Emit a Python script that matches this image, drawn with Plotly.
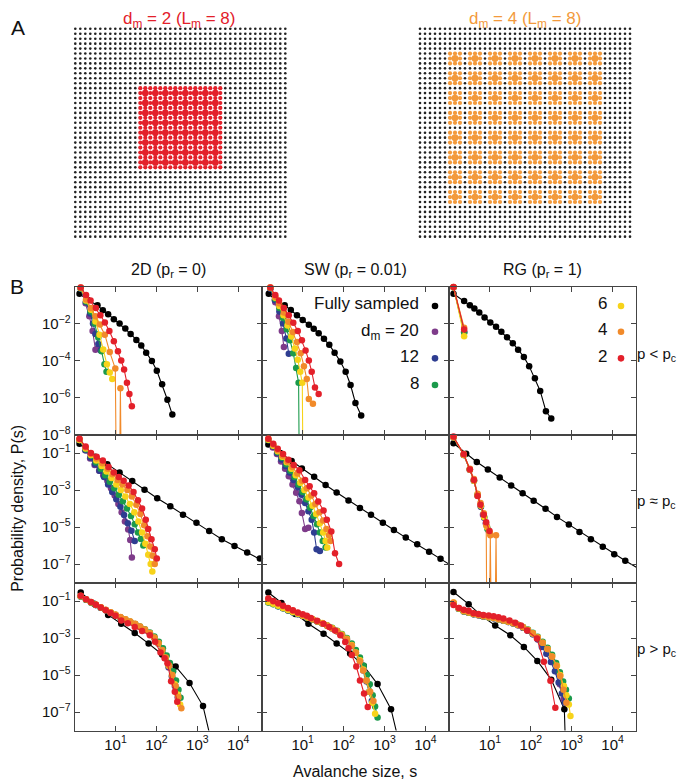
import numpy as np
import plotly.graph_objects as go

W, H = 685, 779
FONT = "Liberation Sans, Arial, sans-serif"

# ---------------- colours ----------------
C_FULL = "#000000"
C_D20 = "#7E3B8A"
C_D12 = "#2E3D91"
C_D8 = "#1B9A4B"
C_D6 = "#F7D31A"
C_D4 = "#F18A2A"
C_D2 = "#E3202A"
C_LAT4 = "#F39A3C"

# ---------------- tick labels / titles ----------------
col_titles = ["2D (p<sub>r</sub> = 0)", "SW (p<sub>r</sub> = 0.01)", "RG (p<sub>r</sub> = 1)"]
row_titles = ["p < p<sub>c</sub>", "p ≈ p<sub>c</sub>", "p > p<sub>c</sub>"]
x_tickvals = [10, 100, 1000, 10000]
x_ticktext = ["10<sup>1</sup>", "10<sup>2</sup>", "10<sup>3</sup>", "10<sup>4</sup>"]
y_tickvals_even = [1e-2, 1e-4, 1e-6, 1e-8]
y_ticktext_even = ["10<sup>−2</sup>", "10<sup>−4</sup>", "10<sup>−6</sup>", "10<sup>−8</sup>"]
y_tickvals_odd = [1e-1, 1e-3, 1e-5, 1e-7]
y_ticktext_odd = ["10<sup>−1</sup>", "10<sup>−3</sup>", "10<sup>−5</sup>", "10<sup>−7</sup>"]

# ---------------- data: log10(s) and log10(P(s)); -20 marks an empty bin (P = 0) ----------------
# Row 1: p < pc, 2D
r1_2d_full_s = [0.12,0.32,0.56,0.69,0.82,0.96,1.10,1.24,1.37,1.51,1.63,1.75,1.89,2.01,2.14,2.27,2.39]
r1_2d_full_p = [-0.39,-0.72,-1.01,-1.28,-1.49,-1.76,-1.99,-2.26,-2.56,-2.88,-3.18,-3.57,-4.02,-4.55,-5.28,-6.12,-6.92]
r1_2d_d20_s = [0.15,0.27,0.36,0.44,0.51,0.56]
r1_2d_d20_p = [-0.1,-0.9,-1.6,-2.4,-3.41,-3.36]
r1_2d_d12_s = [0.15,0.28,0.38,0.45,0.51,0.58,0.64]
r1_2d_d12_p = [-0.1,-0.85,-1.45,-2.0,-2.56,-3.1,-3.45]
r1_2d_d8_s = [0.15,0.28,0.39,0.49,0.58,0.66,0.73,0.78]
r1_2d_d8_p = [-0.1,-0.8,-1.35,-2.0,-2.75,-3.5,-4.2,-4.6]
r1_2d_d6_s = [0.15,0.28,0.40,0.51,0.61,0.70,0.79,0.86,0.92]
r1_2d_d6_p = [-0.08,-0.75,-1.25,-1.88,-2.6,-3.4,-4.2,-4.65,-5.0]
r1_2d_d4_s = [0.15,0.28,0.40,0.51,0.62,0.74,0.86,0.995,1.06,1.12,1.18]
r1_2d_d4_p = [-0.05,-0.7,-1.15,-1.6,-2.05,-2.6,-3.54,-4.43,-20,-5.49,-20]
r1_2d_d2_s = [0.15,0.28,0.39,0.52,0.63,0.74,0.85,0.96,1.06,1.14,1.21,1.28,1.34,1.40]
r1_2d_d2_p = [-0.05,-0.45,-0.75,-1.15,-1.55,-1.94,-2.4,-2.95,-3.5,-4.0,-4.48,-5.2,-5.8,-6.47]

# Row 1: p < pc, SW
r1_sw_full_s = [0.17,0.32,0.56,0.71,0.86,1.0,1.15,1.27,1.39,1.52,1.65,1.78,1.92,2.05,2.17,2.29,2.43]
r1_sw_full_p = [-0.39,-0.72,-1.01,-1.27,-1.55,-1.8,-2.06,-2.28,-2.52,-2.82,-3.15,-3.57,-4.05,-4.6,-5.32,-6.29,-6.97]
r1_sw_d20_s = [0.21,0.33,0.42,0.49,0.54]
r1_sw_d20_p = [-0.1,-0.85,-1.6,-2.4,-3.27]
r1_sw_d12_s = [0.21,0.33,0.43,0.52,0.60,0.66]
r1_sw_d12_p = [-0.1,-0.75,-1.35,-2.0,-2.8,-3.63]
r1_sw_d8_s = [0.21,0.33,0.43,0.52,0.61,0.69,0.77,0.84,0.90,0.95]
r1_sw_d8_p = [-0.08,-0.65,-1.15,-1.7,-2.3,-2.9,-3.6,-4.4,-5.2,-20]
r1_sw_d6_s = [0.21,0.33,0.43,0.53,0.63,0.72,0.81,0.88,0.94,0.99,1.04]
r1_sw_d6_p = [-0.05,-0.6,-1.05,-1.55,-2.1,-2.7,-3.35,-3.95,-4.6,-5.2,-20]
r1_sw_d4_s = [0.21,0.33,0.42,0.54,0.65,0.76,0.86,0.95,1.03,1.10,1.15,1.25]
r1_sw_d4_p = [-0.05,-0.55,-0.9,-1.4,-1.9,-2.45,-3.0,-3.6,-4.3,-5.0,-6.08,-6.33]
r1_sw_d2_s = [0.21,0.33,0.42,0.54,0.66,0.77,0.88,0.98,1.07,1.15,1.22,1.30,1.39]
r1_sw_d2_p = [-0.05,-0.45,-0.75,-1.15,-1.55,-1.95,-2.4,-2.9,-3.45,-4.0,-4.6,-5.45,-5.8]

# Row 1: p < pc, RG
r1_rg_full_s = [0.11,0.37,0.51,0.62,0.74,0.87,1.01,1.15,1.28,1.42,1.56,1.69,1.83,1.96,2.10,2.23,2.37,2.50]
r1_rg_full_p = [-0.39,-0.78,-1.01,-1.19,-1.40,-1.67,-1.94,-2.17,-2.44,-2.74,-3.06,-3.41,-3.80,-4.30,-4.96,-5.64,-6.74,-7.13]
r1_rg_d20_s = [0.11,0.37]
r1_rg_d20_p = [-0.03,-2.45]
r1_rg_d12_s = [0.11,0.37]
r1_rg_d12_p = [-0.03,-2.45]
r1_rg_d8_s = [0.11,0.37]
r1_rg_d8_p = [-0.03,-2.5]
r1_rg_d6_s = [0.11,0.37]
r1_rg_d6_p = [-0.03,-2.68]
r1_rg_d4_s = [0.11,0.37]
r1_rg_d4_p = [-0.02,-2.22]
r1_rg_d2_s = [0.11,0.37]
r1_rg_d2_p = [-0.02,-2.32]

# Row 2: p ~ pc, 2D
r2_2d_full_s = [0.12,0.5,0.8,1.10,1.41,1.71,2.02,2.34,2.65,2.98,3.29,3.60,3.91,4.22,4.53,4.84]
r2_2d_full_p = [-0.5,-1.2,-1.6,-2.05,-2.51,-2.99,-3.44,-3.88,-4.33,-4.77,-5.22,-5.66,-6.02,-6.37,-6.70,-7.1]
r2_2d_d20_s = [0.12,0.26,0.38,0.49,0.60,0.70,0.80,0.89,0.98,1.07,1.15,1.23,1.31,1.36,1.40]
r2_2d_d20_p = [-0.3,-0.85,-1.3,-1.65,-1.95,-2.2,-2.5,-2.9,-3.3,-3.75,-4.2,-4.7,-5.13,-5.7,-6.64]
r2_2d_d12_s = [0.12,0.27,0.39,0.50,0.61,0.72,0.82,0.92,1.02,1.12,1.21,1.30,1.39,1.47]
r2_2d_d12_p = [-0.3,-0.85,-1.25,-1.6,-1.95,-2.3,-2.7,-3.1,-3.5,-3.9,-4.35,-4.8,-5.2,-5.75]
r2_2d_d8_s = [0.12,0.27,0.40,0.52,0.64,0.75,0.86,0.97,1.08,1.18,1.28,1.38,1.47,1.55,1.62,1.68]
r2_2d_d8_p = [-0.3,-0.8,-1.15,-1.5,-1.85,-2.2,-2.55,-2.9,-3.25,-3.6,-4.0,-4.4,-4.85,-5.3,-5.65,-6.0]
r2_2d_d6_s = [0.12,0.27,0.40,0.53,0.66,0.78,0.90,1.02,1.13,1.24,1.35,1.46,1.56,1.65,1.73,1.80,1.86,1.90]
r2_2d_d6_p = [-0.3,-0.75,-1.1,-1.4,-1.7,-2.0,-2.35,-2.7,-3.0,-3.35,-3.75,-4.2,-4.7,-5.3,-5.9,-6.5,-7.0,-7.41]
r2_2d_d4_s = [0.12,0.27,0.40,0.54,0.68,0.81,0.93,1.05,1.17,1.29,1.40,1.51,1.61,1.70,1.78,1.85,1.91,1.96]
r2_2d_d4_p = [-0.25,-0.7,-1.05,-1.3,-1.55,-1.85,-2.15,-2.45,-2.7,-3.0,-3.35,-3.8,-4.3,-4.9,-5.5,-6.05,-6.55,-7.0]
r2_2d_d2_s = [0.12,0.27,0.40,0.54,0.69,0.83,0.96,1.08,1.20,1.32,1.44,1.55,1.65,1.74,1.80,1.88,1.96,2.01]
r2_2d_d2_p = [-0.23,-0.65,-1.0,-1.2,-1.4,-1.75,-2.05,-2.3,-2.5,-2.75,-3.1,-3.55,-4.0,-4.6,-5.1,-5.66,-6.2,-6.7]

# Row 2: p ~ pc, SW
r2_sw_full_s = [0.16,0.45,0.73,0.98,1.28,1.56,1.83,2.12,2.40,2.67,2.96,3.23,3.52,3.80,4.09,4.37,4.65]
r2_sw_full_p = [-0.54,-1.0,-1.43,-1.84,-2.28,-2.73,-3.13,-3.56,-3.97,-4.33,-4.77,-5.16,-5.57,-5.93,-6.34,-6.72,-7.1]
r2_sw_d20_s = [0.16,0.27,0.37,0.47,0.57,0.66,0.75,0.84,0.92,0.98,1.06,1.14]
r2_sw_d20_p = [-0.3,-0.7,-1.05,-1.45,-1.85,-2.25,-2.7,-3.15,-3.6,-4.24,-5.1,-5.04]
r2_sw_d12_s = [0.16,0.28,0.38,0.48,0.58,0.68,0.78,0.88,0.97,1.06,1.14,1.22,1.28,1.34,1.42]
r2_sw_d12_p = [-0.3,-0.65,-1.0,-1.35,-1.7,-2.05,-2.45,-2.85,-3.25,-3.7,-4.15,-4.6,-5.3,-6.2,-6.29]
r2_sw_d8_s = [0.16,0.28,0.39,0.49,0.60,0.70,0.80,0.90,1.00,1.09,1.18,1.27,1.35,1.42,1.49,1.56]
r2_sw_d8_p = [-0.3,-0.62,-0.95,-1.25,-1.6,-1.95,-2.3,-2.7,-3.1,-3.5,-3.95,-4.4,-4.85,-5.3,-5.75,-6.1]
r2_sw_d6_s = [0.16,0.28,0.39,0.50,0.61,0.72,0.83,0.94,1.04,1.14,1.24,1.33,1.42,1.50,1.56,1.60]
r2_sw_d6_p = [-0.28,-0.6,-0.9,-1.2,-1.5,-1.85,-2.2,-2.6,-3.0,-3.4,-3.85,-4.3,-4.8,-5.3,-5.75,-6.1]
r2_sw_d4_s = [0.16,0.28,0.39,0.51,0.63,0.75,0.87,0.99,1.10,1.21,1.31,1.41,1.50,1.58,1.64,1.68]
r2_sw_d4_p = [-0.23,-0.55,-0.85,-1.15,-1.45,-1.75,-2.1,-2.5,-2.9,-3.3,-3.75,-4.2,-4.65,-5.1,-5.45,-5.75]
r2_sw_d2_s = [0.16,0.28,0.39,0.52,0.65,0.78,0.92,1.06,1.17,1.28,1.38,1.51,1.59,1.70,1.79,1.89]
r2_sw_d2_p = [-0.23,-0.5,-0.77,-1.05,-1.36,-1.65,-1.93,-2.46,-2.8,-3.17,-3.62,-4.1,-4.6,-5.24,-6.41,-7.0]

# Row 2: p ~ pc, RG
r2_rg_full_s = [0.11,0.42,0.68,0.95,1.24,1.52,1.80,2.07,2.36,2.64,2.93,3.19,3.47,3.76,4.04,4.31,4.60]
r2_rg_full_p = [-0.47,-1.04,-1.48,-1.89,-2.32,-2.76,-3.17,-3.58,-4.01,-4.45,-4.86,-5.27,-5.66,-6.07,-6.47,-6.82,-7.2]
r2_rg_d20_s = [0.11,0.36,0.51,0.61,0.70,0.78,0.83,0.90,0.97]
r2_rg_d20_p = [-0.15,-1.1,-1.9,-2.5,-3.3,-3.9,-4.33,-4.8,-5.2]
r2_rg_d12_s = [0.11,0.36,0.51,0.61,0.70,0.78,0.86,0.93]
r2_rg_d12_p = [-0.15,-1.1,-1.9,-2.5,-3.3,-3.9,-4.5,-5.0]
r2_rg_d8_s = [0.11,0.36,0.51,0.61,0.70,0.78,0.86,0.94]
r2_rg_d8_p = [-0.15,-1.08,-1.88,-2.48,-3.25,-3.85,-4.45,-5.1]
r2_rg_d6_s = [0.11,0.36,0.51,0.61,0.70,0.78,0.86,0.93,1.0]
r2_rg_d6_p = [-0.15,-1.1,-1.9,-2.5,-3.3,-3.85,-4.45,-5.0,-5.3]
r2_rg_d4_s = [0.11,0.36,0.51,0.61,0.70,0.77,0.85,0.91,0.95,1.01,1.08,1.15,1.21]
r2_rg_d4_p = [-0.15,-1.05,-1.85,-2.4,-3.2,-3.7,-4.25,-4.9,-20,-5.45,-20,-5.45,-20]
r2_rg_d2_s = [0.11,0.36,0.51,0.61,0.70,0.77,0.85,0.91,0.99]
r2_rg_d2_p = [-0.11,-1.07,-1.89,-2.46,-3.32,-3.8,-4.33,-4.74,-5.22]

# Row 3: p > pc, 2D
r3_2d_full_s = [0.15,0.48,0.82,1.14,1.47,1.81,2.14,2.47,2.81,3.14,3.45]
r3_2d_full_p = [-0.54,-1.15,-1.75,-2.23,-2.73,-3.3,-3.89,-4.54,-5.43,-6.68,-9.6]
r3_2d_d20_s = [0.15,0.28,0.40,0.52,0.64,0.76,0.88,1.0,1.12,1.24,1.36,1.48,1.60,1.72,1.84,1.95,2.05,2.14,2.22,2.30,2.38,2.45,2.52]
r3_2d_d20_p = [-0.75,-0.92,-1.07,-1.21,-1.35,-1.49,-1.62,-1.75,-1.88,-2.0,-2.12,-2.25,-2.4,-2.56,-2.75,-3.0,-3.3,-3.7,-4.1,-4.6,-5.1,-5.6,-6.2]
r3_2d_d12_s = [0.15,0.28,0.40,0.52,0.64,0.76,0.88,1.0,1.12,1.24,1.36,1.48,1.60,1.72,1.84,1.95,2.05,2.14,2.22,2.30,2.38,2.46,2.53]
r3_2d_d12_p = [-0.76,-0.93,-1.08,-1.22,-1.36,-1.5,-1.63,-1.76,-1.89,-2.01,-2.13,-2.26,-2.41,-2.57,-2.76,-3.0,-3.3,-3.68,-4.08,-4.55,-5.05,-5.6,-6.1]
r3_2d_d8_s = [0.15,0.28,0.40,0.52,0.64,0.76,0.88,1.0,1.12,1.24,1.36,1.48,1.60,1.72,1.84,1.95,2.06,2.16,2.25,2.33,2.41,2.48,2.54,2.59]
r3_2d_d8_p = [-0.76,-0.93,-1.08,-1.22,-1.36,-1.5,-1.63,-1.76,-1.89,-2.0,-2.12,-2.24,-2.38,-2.53,-2.7,-2.92,-3.2,-3.55,-3.95,-4.35,-4.8,-5.3,-5.8,-6.23]
r3_2d_d6_s = [0.15,0.28,0.40,0.52,0.64,0.76,0.88,1.0,1.12,1.24,1.36,1.48,1.60,1.72,1.84,1.95,2.05,2.14,2.22,2.30,2.38,2.45,2.52,2.58]
r3_2d_d6_p = [-0.74,-0.91,-1.06,-1.2,-1.34,-1.48,-1.61,-1.74,-1.87,-1.99,-2.11,-2.24,-2.39,-2.55,-2.74,-2.98,-3.28,-3.66,-4.06,-4.5,-5.0,-5.5,-6.05,-6.6]
r3_2d_d4_s = [0.15,0.28,0.40,0.52,0.64,0.76,0.88,1.0,1.12,1.24,1.36,1.48,1.60,1.72,1.84,1.95,2.05,2.14,2.23,2.31,2.39,2.47,2.54,2.61]
r3_2d_d4_p = [-0.72,-0.9,-1.05,-1.19,-1.33,-1.47,-1.6,-1.73,-1.86,-1.98,-2.1,-2.23,-2.38,-2.54,-2.73,-2.97,-3.27,-3.65,-4.05,-4.5,-5.0,-5.6,-6.2,-6.8]
r3_2d_d2_s = [0.15,0.28,0.40,0.52,0.64,0.76,0.88,1.0,1.14,1.30,1.47,1.65,1.84,1.97,2.10,2.20,2.27,2.36,2.45,2.51]
r3_2d_d2_p = [-0.72,-0.9,-1.05,-1.2,-1.35,-1.5,-1.65,-1.8,-2.05,-2.2,-2.41,-2.62,-2.85,-3.2,-3.78,-4.1,-4.37,-5.34,-5.9,-6.45]

# Row 3: p > pc, SW
r3_sw_full_s = [0.16,0.48,0.82,1.14,1.51,1.83,2.16,2.49,2.83,3.16,3.48]
r3_sw_full_p = [-0.54,-1.1,-1.7,-2.23,-2.77,-3.3,-3.83,-4.5,-5.49,-6.85,-9.8]
r3_sw_d20_s = [0.16,0.28,0.40,0.52,0.64,0.76,0.88,1.0,1.12,1.24,1.36,1.48,1.60,1.72,1.84,1.96,2.08,2.2,2.3,2.4,2.48,2.56,2.63,2.70]
r3_sw_d20_p = [-1.05,-1.15,-1.27,-1.38,-1.5,-1.6,-1.7,-1.8,-1.9,-2.0,-2.1,-2.2,-2.33,-2.47,-2.63,-2.82,-3.05,-3.4,-3.8,-4.25,-4.75,-5.35,-5.9,-6.5]
r3_sw_d12_s = [0.16,0.28,0.40,0.52,0.64,0.76,0.88,1.0,1.12,1.24,1.36,1.48,1.60,1.72,1.84,1.96,2.08,2.2,2.3,2.4,2.48,2.56,2.63,2.69]
r3_sw_d12_p = [-1.06,-1.16,-1.28,-1.39,-1.51,-1.61,-1.71,-1.81,-1.91,-2.01,-2.11,-2.21,-2.34,-2.48,-2.64,-2.83,-3.06,-3.4,-3.8,-4.2,-4.7,-5.3,-5.9,-6.4]
r3_sw_d8_s = [0.16,0.28,0.40,0.52,0.64,0.76,0.88,1.0,1.12,1.24,1.36,1.48,1.60,1.72,1.84,1.96,2.08,2.2,2.3,2.4,2.49,2.57,2.64,2.71,2.77,2.83]
r3_sw_d8_p = [-1.08,-1.17,-1.28,-1.39,-1.5,-1.6,-1.7,-1.8,-1.9,-2.0,-2.1,-2.2,-2.32,-2.45,-2.6,-2.78,-3.0,-3.3,-3.65,-4.05,-4.5,-5.0,-5.5,-6.1,-6.7,-7.3]
r3_sw_d6_s = [0.16,0.28,0.40,0.52,0.64,0.76,0.88,1.0,1.12,1.24,1.36,1.48,1.60,1.72,1.84,1.96,2.08,2.2,2.3,2.4,2.48,2.56,2.63,2.70,2.77]
r3_sw_d6_p = [-1.05,-1.15,-1.26,-1.37,-1.49,-1.59,-1.69,-1.79,-1.89,-1.99,-2.09,-2.19,-2.32,-2.46,-2.62,-2.81,-3.04,-3.38,-3.78,-4.2,-4.7,-5.3,-5.9,-6.5,-7.09]
r3_sw_d4_s = [0.16,0.28,0.40,0.52,0.64,0.76,0.88,1.0,1.12,1.24,1.36,1.48,1.60,1.72,1.84,1.96,2.08,2.2,2.3,2.4,2.48,2.56,2.65,2.73]
r3_sw_d4_p = [-0.88,-1.02,-1.15,-1.28,-1.41,-1.53,-1.65,-1.77,-1.88,-1.99,-2.1,-2.21,-2.34,-2.48,-2.64,-2.83,-3.06,-3.4,-3.8,-4.25,-4.75,-5.3,-5.9,-6.4]
r3_sw_d2_s = [0.16,0.28,0.40,0.52,0.64,0.76,0.88,1.0,1.1,1.2,1.35,1.51,1.65,1.79,1.92,2.04,2.12,2.2,2.31,2.4,2.5,2.59]
r3_sw_d2_p = [-0.86,-1.0,-1.12,-1.25,-1.38,-1.5,-1.62,-1.72,-1.8,-1.92,-2.07,-2.23,-2.4,-2.59,-2.85,-3.21,-3.55,-3.92,-4.54,-5.3,-6.0,-6.73]

# Row 3: p > pc, RG
r3_rg_full_s = [0.11,0.48,0.80,1.13,1.50,1.83,2.16,2.50,2.82,3.0]
r3_rg_full_p = [-0.51,-1.17,-1.8,-2.32,-2.85,-3.48,-4.24,-5.25,-6.85,-20]
r3_rg_d20_s = [0.11,0.24,0.36,0.48,0.60,0.72,0.84,0.97,1.09,1.21,1.33,1.45,1.57,1.69,1.81,1.93,2.05,2.17,2.29,2.41,2.52,2.62,2.71,2.80]
r3_rg_d20_p = [-1.12,-1.42,-1.56,-1.63,-1.71,-1.77,-1.83,-1.88,-1.93,-1.99,-2.06,-2.13,-2.21,-2.31,-2.44,-2.6,-2.8,-3.05,-3.35,-3.75,-4.2,-4.8,-5.5,-6.3]
r3_rg_d12_s = [0.11,0.24,0.36,0.48,0.60,0.72,0.84,0.97,1.09,1.21,1.33,1.45,1.57,1.69,1.81,1.93,2.05,2.17,2.27,2.38,2.49,2.59,2.68,2.76,2.83]
r3_rg_d12_p = [-1.12,-1.42,-1.56,-1.63,-1.71,-1.77,-1.83,-1.88,-1.93,-1.99,-2.06,-2.13,-2.21,-2.31,-2.44,-2.6,-2.8,-3.08,-3.48,-3.85,-4.3,-4.8,-5.4,-6.0,-6.5]
r3_rg_d8_s = [0.11,0.24,0.36,0.48,0.60,0.72,0.84,0.97,1.09,1.21,1.33,1.45,1.57,1.69,1.81,1.93,2.05,2.17,2.29,2.41,2.52,2.62,2.71,2.79,2.86,2.93]
r3_rg_d8_p = [-1.12,-1.42,-1.55,-1.62,-1.7,-1.76,-1.82,-1.87,-1.92,-1.98,-2.04,-2.11,-2.19,-2.28,-2.4,-2.54,-2.72,-2.93,-3.2,-3.52,-3.9,-4.35,-4.85,-5.35,-5.8,-6.27]
r3_rg_d6_s = [0.11,0.24,0.36,0.48,0.60,0.72,0.84,0.97,1.09,1.21,1.33,1.45,1.57,1.69,1.81,1.93,2.05,2.17,2.29,2.41,2.52,2.64,2.72,2.81,2.87,2.93,2.97]
r3_rg_d6_p = [-1.08,-1.4,-1.55,-1.62,-1.7,-1.76,-1.82,-1.87,-1.92,-1.98,-2.05,-2.12,-2.2,-2.3,-2.42,-2.57,-2.75,-2.97,-3.25,-3.6,-4.0,-4.5,-5.0,-5.6,-6.1,-6.6,-7.21]
r3_rg_d4_s = [0.11,0.24,0.36,0.48,0.60,0.72,0.84,0.97,1.09,1.21,1.33,1.45,1.57,1.69,1.81,1.93,2.05,2.17,2.29,2.41,2.52,2.63,2.72,2.80,2.87]
r3_rg_d4_p = [-1.08,-1.38,-1.53,-1.61,-1.69,-1.75,-1.81,-1.86,-1.91,-1.97,-2.04,-2.11,-2.19,-2.29,-2.41,-2.56,-2.74,-2.97,-3.25,-3.6,-4.0,-4.5,-5.05,-5.8,-6.5]
r3_rg_d2_s = [0.11,0.24,0.36,0.48,0.60,0.72,0.84,0.97,1.09,1.21,1.33,1.48,1.62,1.76,1.91,2.15,2.32,2.48,2.60]
r3_rg_d2_p = [-1.22,-1.38,-1.47,-1.52,-1.66,-1.7,-1.75,-1.78,-1.82,-1.87,-1.95,-2.05,-2.17,-2.32,-2.59,-3.03,-4.28,-5.31,-6.77]

# ---------------- panel A lattice parameters ----------------
LATTICE_N = 43
LEFT_DM, RIGHT_DM, L_M = 2, 4, 8
LEFT_ELEC_X0, LEFT_ELEC_Y0 = 14, 13
RIGHT_ELEC_X0, RIGHT_ELEC_Y0 = 7, 6
lattice_titles = ["d<sub>m</sub> = 2 (L<sub>m</sub> = 8)", "d<sub>m</sub> = 4 (L<sub>m</sub> = 8)"]

# ---------------- layout geometry (pixels) ----------------
COL_PX = [(66.6, 253.8), (253.8, 441.0), (441.0, 628.2)]
ROW_PX = [(281.5, 431.0), (431.0, 580.5), (580.5, 730.0)]
X_RANGE = [0, 4.577]
Y_RANGE = [-8, 0]


def xdom(a, b):
    return [a / W, b / W]


def ydom(top, bottom):
    return [1 - bottom / H, 1 - top / H]


panels = {
    (0, 0): [(r1_2d_full_s, r1_2d_full_p, C_FULL), (r1_2d_d20_s, r1_2d_d20_p, C_D20), (r1_2d_d12_s, r1_2d_d12_p, C_D12),
             (r1_2d_d8_s, r1_2d_d8_p, C_D8), (r1_2d_d6_s, r1_2d_d6_p, C_D6), (r1_2d_d4_s, r1_2d_d4_p, C_D4),
             (r1_2d_d2_s, r1_2d_d2_p, C_D2)],
    (0, 1): [(r1_sw_full_s, r1_sw_full_p, C_FULL), (r1_sw_d20_s, r1_sw_d20_p, C_D20), (r1_sw_d12_s, r1_sw_d12_p, C_D12),
             (r1_sw_d8_s, r1_sw_d8_p, C_D8), (r1_sw_d6_s, r1_sw_d6_p, C_D6), (r1_sw_d4_s, r1_sw_d4_p, C_D4),
             (r1_sw_d2_s, r1_sw_d2_p, C_D2)],
    (0, 2): [(r1_rg_full_s, r1_rg_full_p, C_FULL), (r1_rg_d20_s, r1_rg_d20_p, C_D20), (r1_rg_d12_s, r1_rg_d12_p, C_D12),
             (r1_rg_d8_s, r1_rg_d8_p, C_D8), (r1_rg_d6_s, r1_rg_d6_p, C_D6), (r1_rg_d4_s, r1_rg_d4_p, C_D4),
             (r1_rg_d2_s, r1_rg_d2_p, C_D2)],
    (1, 0): [(r2_2d_full_s, r2_2d_full_p, C_FULL), (r2_2d_d20_s, r2_2d_d20_p, C_D20), (r2_2d_d12_s, r2_2d_d12_p, C_D12),
             (r2_2d_d8_s, r2_2d_d8_p, C_D8), (r2_2d_d6_s, r2_2d_d6_p, C_D6), (r2_2d_d4_s, r2_2d_d4_p, C_D4),
             (r2_2d_d2_s, r2_2d_d2_p, C_D2)],
    (1, 1): [(r2_sw_full_s, r2_sw_full_p, C_FULL), (r2_sw_d20_s, r2_sw_d20_p, C_D20), (r2_sw_d12_s, r2_sw_d12_p, C_D12),
             (r2_sw_d8_s, r2_sw_d8_p, C_D8), (r2_sw_d6_s, r2_sw_d6_p, C_D6), (r2_sw_d4_s, r2_sw_d4_p, C_D4),
             (r2_sw_d2_s, r2_sw_d2_p, C_D2)],
    (1, 2): [(r2_rg_full_s, r2_rg_full_p, C_FULL), (r2_rg_d20_s, r2_rg_d20_p, C_D20), (r2_rg_d12_s, r2_rg_d12_p, C_D12),
             (r2_rg_d8_s, r2_rg_d8_p, C_D8), (r2_rg_d6_s, r2_rg_d6_p, C_D6), (r2_rg_d4_s, r2_rg_d4_p, C_D4),
             (r2_rg_d2_s, r2_rg_d2_p, C_D2)],
    (2, 0): [(r3_2d_full_s, r3_2d_full_p, C_FULL), (r3_2d_d20_s, r3_2d_d20_p, C_D20), (r3_2d_d12_s, r3_2d_d12_p, C_D12),
             (r3_2d_d8_s, r3_2d_d8_p, C_D8), (r3_2d_d6_s, r3_2d_d6_p, C_D6), (r3_2d_d4_s, r3_2d_d4_p, C_D4),
             (r3_2d_d2_s, r3_2d_d2_p, C_D2)],
    (2, 1): [(r3_sw_full_s, r3_sw_full_p, C_FULL), (r3_sw_d20_s, r3_sw_d20_p, C_D20), (r3_sw_d12_s, r3_sw_d12_p, C_D12),
             (r3_sw_d8_s, r3_sw_d8_p, C_D8), (r3_sw_d6_s, r3_sw_d6_p, C_D6), (r3_sw_d4_s, r3_sw_d4_p, C_D4),
             (r3_sw_d2_s, r3_sw_d2_p, C_D2)],
    (2, 2): [(r3_rg_full_s, r3_rg_full_p, C_FULL), (r3_rg_d20_s, r3_rg_d20_p, C_D20), (r3_rg_d12_s, r3_rg_d12_p, C_D12),
             (r3_rg_d8_s, r3_rg_d8_p, C_D8), (r3_rg_d6_s, r3_rg_d6_p, C_D6), (r3_rg_d4_s, r3_rg_d4_p, C_D4),
             (r3_rg_d2_s, r3_rg_d2_p, C_D2)],
}

fig = go.Figure()
layout = {}
AX = dict(showgrid=False, zeroline=False, showline=True, linecolor="#444", linewidth=1,
          mirror="ticks", ticks="inside", ticklen=5, tickwidth=1, tickcolor="#444",
          tickfont=dict(family=FONT, size=15, color="#111"))

for r in range(3):
    for c in range(3):
        k = r * 3 + c + 1
        xa = "xaxis" if k == 1 else f"xaxis{k}"
        ya = "yaxis" if k == 1 else f"yaxis{k}"
        xref = "x" if k == 1 else f"x{k}"
        yref = "y" if k == 1 else f"y{k}"
        layout[xa] = dict(AX, type="log", range=X_RANGE, domain=xdom(*COL_PX[c]), anchor=yref,
                          tickvals=x_tickvals, ticktext=x_ticktext, showticklabels=(r == 2))
        yv, yt = (y_tickvals_even, y_ticktext_even) if r == 0 else (y_tickvals_odd, y_ticktext_odd)
        layout[ya] = dict(AX, type="log", range=Y_RANGE, domain=ydom(*ROW_PX[r]), anchor=xref,
                          tickvals=yv, ticktext=yt, showticklabels=(c == 0))
        for s_arr, p_arr, color in panels[(r, c)]:
            s = np.array(s_arr, dtype=float)
            p = np.array(p_arr, dtype=float)
            fig.add_trace(go.Scatter(x=10 ** s, y=10 ** p, mode="lines", xaxis=xref, yaxis=yref,
                                     line=dict(color=color, width=1.1), showlegend=False, hoverinfo="skip"))
            vis = (p >= Y_RANGE[0] - 0.05) & (s <= X_RANGE[1] + 0.02)
            fig.add_trace(go.Scatter(x=10 ** s[vis], y=10 ** p[vis], mode="markers", xaxis=xref, yaxis=yref,
                                     marker=dict(color=color, size=6.5), cliponaxis=False,
                                     showlegend=False, hoverinfo="skip"))


# ---------------- panel A lattices ----------------
def lattice_traces(dm, ex0, ey0, color, xref, yref):
    elec = set()
    small = set()
    for i in range(L_M):
        for j in range(L_M):
            cx, cy = ex0 + i * dm, ey0 + j * dm
            elec.add((cx, cy))
            for dx in (-1, 0, 1):
                for dy in (-1, 0, 1):
                    small.add((cx + dx, cy + dy))
    small -= elec
    black = [(x, y) for x in range(LATTICE_N) for y in range(LATTICE_N) if (x, y) not in small and (x, y) not in elec]
    return [
        go.Scatter(x=[b[0] for b in black], y=[b[1] for b in black], mode="markers", xaxis=xref, yaxis=yref,
                   marker=dict(color="#222", size=2.6), showlegend=False, hoverinfo="skip"),
        go.Scatter(x=[b[0] for b in small], y=[b[1] for b in small], mode="markers", xaxis=xref, yaxis=yref,
                   marker=dict(color=color, size=4.2), showlegend=False, hoverinfo="skip"),
        go.Scatter(x=[b[0] for b in elec], y=[b[1] for b in elec], mode="markers", xaxis=xref, yaxis=yref,
                   marker=dict(color=color, size=6.8), showlegend=False, hoverinfo="skip"),
    ]


LAT_AX = dict(visible=False, showgrid=False, zeroline=False)
layout["xaxis10"] = dict(LAT_AX, range=[-0.5, LATTICE_N - 0.5], domain=xdom(64.8, 279.8), anchor="y10")
layout["yaxis10"] = dict(LAT_AX, range=[LATTICE_N - 0.5, -0.5], domain=ydom(18.5, 233.5), anchor="x10")
layout["xaxis11"] = dict(LAT_AX, range=[-0.5, LATTICE_N - 0.5], domain=xdom(409.5, 624.5), anchor="y11")
layout["yaxis11"] = dict(LAT_AX, range=[LATTICE_N - 0.5, -0.5], domain=ydom(18.5, 233.5), anchor="x11")
for t in lattice_traces(LEFT_DM, LEFT_ELEC_X0, LEFT_ELEC_Y0, C_D2, "x10", "y10"):
    fig.add_trace(t)
for t in lattice_traces(RIGHT_DM, RIGHT_ELEC_X0, RIGHT_ELEC_Y0, C_LAT4, "x11", "y11"):
    fig.add_trace(t)

# ---------------- annotations ----------------
ann = []


def add_text(text, x, y, size, color="#111", xanchor="center", yanchor="middle", angle=0):
    ann.append(dict(text=text, x=x / W, y=1 - y / H, xref="paper", yref="paper", showarrow=False,
                    xanchor=xanchor, yanchor=yanchor, textangle=angle, borderpad=0,
                    font=dict(family=FONT, size=size, color=color)))


add_text("A", 10, 20, 21)
add_text("B", 9, 281, 21)
add_text(lattice_titles[0], 171, 0, 17, color=C_D2, yanchor="top")
add_text(lattice_titles[1], 517, 0, 17, color=C_LAT4, yanchor="top")
for c in range(3):
    add_text(col_titles[c], (COL_PX[c][0] + COL_PX[c][1]) / 2, 265, 16)
for r, yy in enumerate([350, 499, 648]):
    add_text(row_titles[r], 628, yy, 15, xanchor="left")
add_text("Probability density, P(s)", 10, 506, 16, angle=-90)
add_text("Avalanche size, s", 347, 771, 16)

legend_col2 = [("Fully sampled", C_FULL, 299), ("d<sub>m</sub> = 20", C_D20, 327), ("12", C_D12, 352), ("8", C_D8, 379)]
legend_col3 = [("6", C_D6, 299), ("4", C_D4, 325), ("2", C_D2, 352)]
marker_y = {299: 301, 327: 327, 352: 354, 379: 381, 325: 327}
shapes = []
for items, tx, mx in [(legend_col2, 412, 427), (legend_col3, 600, 613)]:
    for text, color, yy in items:
        add_text(text, tx, yy, 17, xanchor="right")
        yc = marker_y[yy]
        shapes.append(dict(type="circle", xref="paper", yref="paper",
                           x0=(mx - 3.3) / W, x1=(mx + 3.3) / W, y0=1 - (yc + 3.3) / H, y1=1 - (yc - 3.3) / H,
                           fillcolor=color, line=dict(width=0)))

fig.update_layout(**layout)
fig.update_layout(width=W, height=H, autosize=False, margin=dict(l=0, r=0, t=0, b=0),
                  paper_bgcolor="white", plot_bgcolor="rgba(0,0,0,0)", annotations=ann, shapes=shapes,
                  font=dict(family=FONT))
fig.write_html("out.html")
